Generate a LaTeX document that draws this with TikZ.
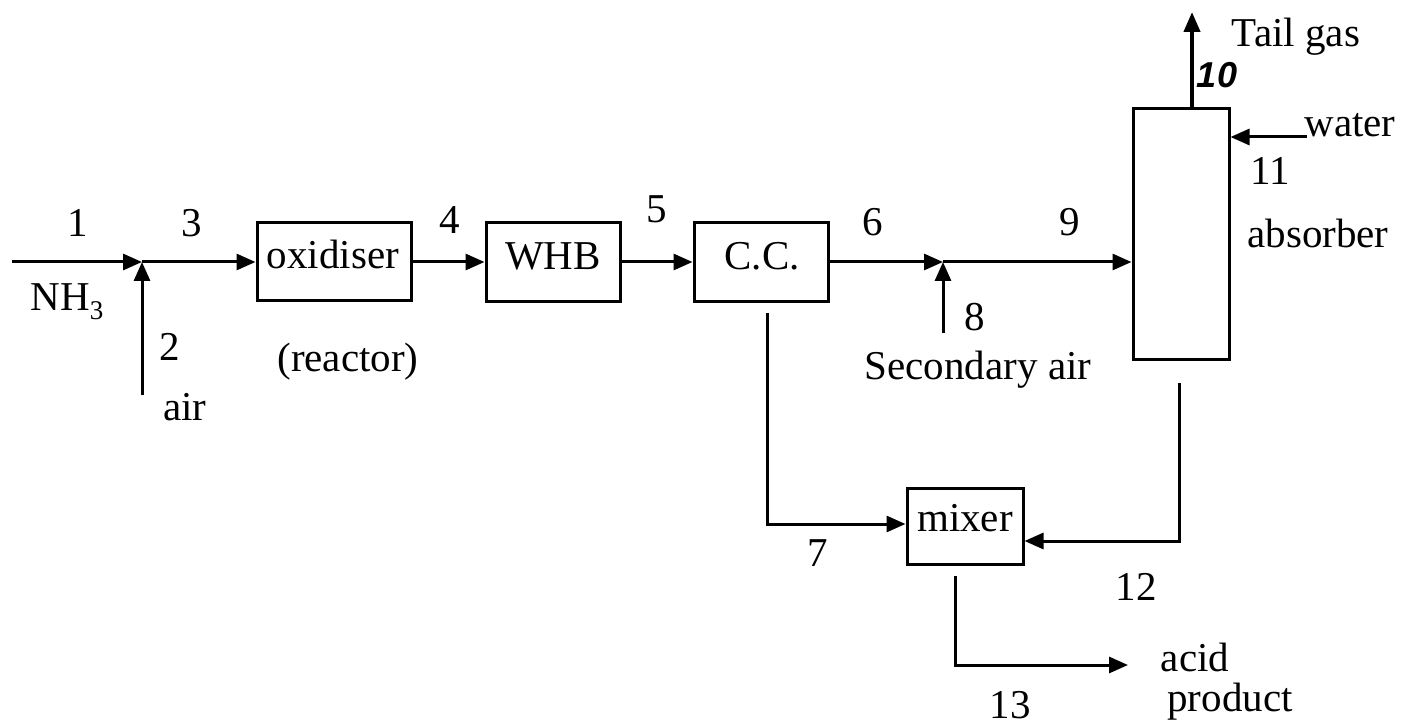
\documentclass[tikz,border=0pt]{standalone}
\usepackage{fontspec}
\setmainfont{Liberation Serif}
\newfontfamily\handfont{Liberation Sans}
\usetikzlibrary{arrows.meta}
\tikzset{
  box/.style={draw, line width=3pt, inner sep=0pt},
  lab/.style={font=\fontsize{41}{48}\selectfont, inner sep=0pt},
  flow/.style={line width=3pt, -{Triangle[length=19pt,width=16pt]}},
  pipe/.style={line width=3pt}
}
\begin{document}
\begin{tikzpicture}[x=1pt,y=-1pt]
\useasboundingbox (0,0) rectangle (1422,727);
% unit boxes
\node[box, minimum width=154pt, minimum height=78pt] (ox) at (334,262) {};
\node[box, minimum width=134pt, minimum height=79pt] (whb) at (553,262) {};
\node[box, minimum width=134pt, minimum height=79pt] (cc) at (761,262) {};
\node[box, minimum width=96pt, minimum height=251pt] (abs) at (1181,234.5) {};
\node[box, minimum width=116pt, minimum height=76pt] (mix) at (965,526) {};
% box texts
\node[lab] (tox) at (333,254) {oxidiser};
\node[lab] (twhb) at (553,256) {WHB};
\node[lab] (tcc) at (762,256) {C.C.};
\node[lab] (tmix) at (965,518) {mixer};
% junctions and free ends
\coordinate (n0) at (12,262);
\coordinate (j1) at (142,262);
\coordinate (a0) at (142,395);
\coordinate (j2) at (943,262);
\coordinate (s0) at (943,333);
\coordinate (c0) at (767,313);
\coordinate (c1) at (767,524);
\coordinate (b0) at (1179,383);
\coordinate (b1) at (1179,541);
\coordinate (m0) at (955,576);
\coordinate (m1) at (955,665);
\coordinate (m2) at (1128,665);
\coordinate (w0) at (1307,137);
\coordinate (t0) at (1192,109);
\coordinate (t1) at (1192,12);
% connectors
\draw[flow] (n0) -- (j1);
\draw[flow] (a0) -- (j1);
\draw[flow] (j1) -- (j1 -| ox.west);
\draw[flow] (ox.east) -- (whb.west);
\draw[flow] (whb.east) -- (cc.west);
\draw[flow] (cc.east |- j2) -- (j2);
\draw[flow] (s0) -- (j2);
\draw[flow] (j2) -- (j2 -| abs.west);
\draw[flow] (w0) -- (w0 -| abs.east);
\draw[line width=4pt, -{Triangle[length=20pt,width=16pt]}] (t0) -- (t1);
\draw[flow] (c0) -- (c1) -- (c1 -| mix.west);
\draw[flow] (b0) -- (b1) -- (b1 -| mix.east);
\draw[flow] (m0) -- (m1) -- (m2);
% labels
\node[lab] (l1) at (78,223) {1};
\node[lab] (l3) at (192,223) {3};
\node[lab] (lnh) at (67,302) {NH\raisebox{-0.22em}{\fontsize{27}{30}\selectfont 3}};
\node[lab] (l2) at (170,347) {2};
\node[lab] (lair) at (185,407) {air};
\node[lab] (lreac) at (348,362) {(reactor)};
\node[lab] (l4) at (450,220) {4};
\node[lab] (l5) at (657,209) {5};
\node[lab] (l6) at (873,222) {6};
\node[lab] (l9) at (1070,222) {9};
\node[lab] (l8) at (975,317) {8};
\node[lab] (lsec) at (978,370) {Secondary air};
\node[lab] (l7) at (818,553) {7};
\node[lab] (l12) at (1136,587) {12};
\node[lab] (l13) at (1010,705) {13};
\node[lab] (lacid) at (1195,657) {acid};
\node[lab] (lprod) at (1230,702) {product};
\node[lab] (ltail) at (1296,37) {Tail gas};
\node[font=\handfont\bfseries\itshape\fontsize{36}{40}\selectfont, inner sep=0pt] (l10) at (1217,75) {10};
\node[lab] (lwater) at (1350,125) {water};
\node[lab] (l11) at (1270,171) {11};
\node[lab] (labs) at (1318,233) {absorber};
\end{tikzpicture}
\end{document}
